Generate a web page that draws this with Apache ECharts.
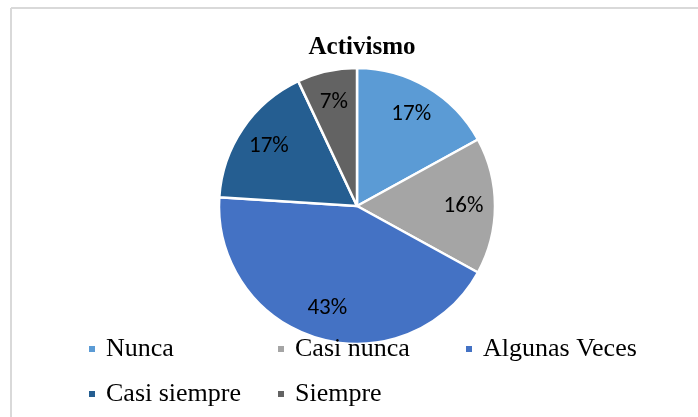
<!DOCTYPE html>
<html>
<head>
<meta charset="utf-8">
<script src="https://cdn.jsdelivr.net/npm/echarts@6/dist/echarts.min.js"></script>
<style>
  html, body { margin: 0; padding: 0; background: #fff; }
  #chart { width: 698px; height: 417px; }
</style>
</head>
<body>
<div id="chart"></div>
<script>
// datos
const categories = ['Nunca', 'Casi nunca', 'Algunas Veces', 'Casi siempre', 'Siempre']
const values = [17, 16, 43, 17, 7]
const colors = ['#5B9BD5', '#A5A5A5', '#4472C4', '#255E91', '#636363']

// la leyenda va en una rejilla de 3 columnas
const legendCol1 = ['Nunca', 'Casi siempre']
const legendCol2 = ['Casi nunca', 'Siempre']
const legendCol3 = ['Algunas Veces']

const serif = "'Liberation Serif', 'Times New Roman', serif"
const sans = "Carlito, 'Liberation Sans', Arial, sans-serif"

const pieData = categories.map((name, i) => ({
  name: name,
  value: values[i],
  itemStyle: { color: colors[i] }
}))

const center = [357, 206]
const R = 138

const legendBase = {
  orient: 'vertical',
  top: 331,
  itemWidth: 8,
  itemHeight: 8,
  itemGap: 19,
  icon: 'rect',
  selectedMode: false,
  textStyle: {
    fontFamily: serif,
    fontSize: 26,
    lineHeight: 26,
    color: '#000',
    padding: [0, 0, 0, 5]
  }
}

const chart = echarts.init(document.getElementById('chart'))
chart.setOption({
  animation: false,
  title: {
    text: 'Activismo',
    left: 357,
    top: 30,
    textAlign: 'center',
    textStyle: {
      fontFamily: serif,
      fontWeight: 'bold',
      fontSize: 25,
      color: '#000'
    }
  },
  legend: [
    Object.assign({}, legendBase, { data: legendCol1, left: 82 }),
    Object.assign({}, legendBase, { data: legendCol2, left: 271 }),
    Object.assign({}, legendBase, { data: legendCol3, left: 459 })
  ],
  graphic: [
    {
      type: 'line',
      shape: { x1: 11, y1: 8, x2: 698, y2: 8 },
      style: { stroke: '#d9d9d9', lineWidth: 2 },
      silent: true
    },
    {
      type: 'line',
      shape: { x1: 11, y1: 8, x2: 11, y2: 417 },
      style: { stroke: '#d9d9d9', lineWidth: 2 },
      silent: true
    }
  ],
  series: [
    {
      name: 'Activismo',
      type: 'pie',
      center: center,
      radius: [0, R],
      startAngle: 90,
      clockwise: true,
      z: 1,
      itemStyle: { borderColor: '#fff', borderWidth: 2.5 },
      label: { show: false },
      labelLine: { show: false },
      emphasis: { disabled: true },
      data: pieData
    },
    {
      // anillo transparente solo para colocar las etiquetas a ~0.75R
      name: 'etiquetas',
      type: 'pie',
      center: center,
      radius: [R * 0.5, R],
      startAngle: 90,
      clockwise: true,
      silent: true,
      z: 2,
      itemStyle: { color: 'transparent', borderWidth: 0 },
      label: {
        show: true,
        position: 'inside',
        formatter: '{c}%',
        fontFamily: sans,
        fontSize: 23,
        color: '#000'
      },
      labelLine: { show: false },
      emphasis: { disabled: true },
      data: categories.map((name, i) => ({ name: name, value: values[i] }))
    }
  ]
})
</script>
</body>
</html>
